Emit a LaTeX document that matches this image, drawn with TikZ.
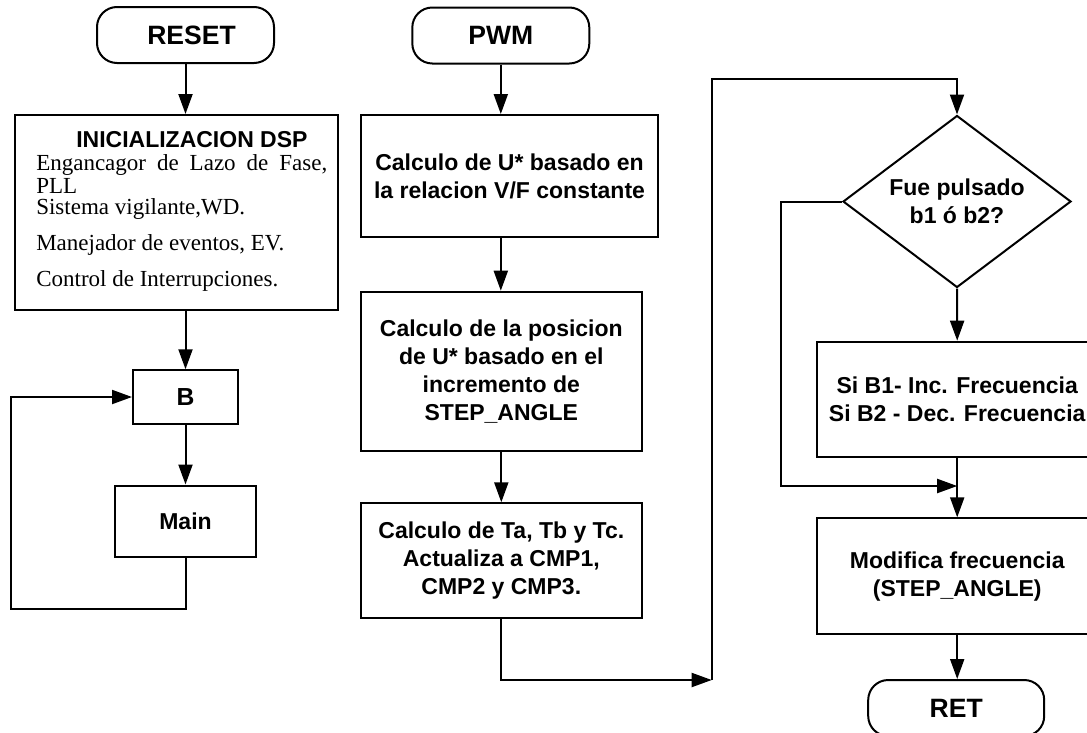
\documentclass[tikz,border=0pt]{standalone}
\usepackage{fontspec}
\setmainfont{Liberation Sans}
\newfontfamily\serifrm{Liberation Serif}
\usetikzlibrary{shapes.geometric,arrows.meta,calc}
\newcommand\bodyfont{\fontsize{17.25}{21}\selectfont\bfseries}
\newcommand\termfont{\fontsize{19.9}{24}\selectfont\bfseries}
\newcommand\serfont{\serifrm\fontsize{17.25}{21}\selectfont}
\begin{document}
\begin{tikzpicture}[x=0.75pt,y=-0.75pt,
 lw/.style={line width=1.5pt},
 box/.style={draw,lw,rectangle,inner sep=0pt,align=center,font=\bodyfont},
 term/.style={draw,lw,rounded corners=15pt,inner sep=0pt,font=\termfont,minimum height=56*0.75pt},
 arr/.style={lw,-{Triangle[length=15pt,width=10.5pt]}},
 conn/.style={lw},
 txt/.style={inner sep=0pt,anchor=base west}]
\useasboundingbox (0,0) rectangle (1087,732);
\clip (0,0) rectangle (1087,732);

% left column
\node[term,minimum width=177*0.75pt] (reset) at (185.5,35) {\hspace*{9pt}RESET};
\node[box,minimum width=323*0.75pt,minimum height=195*0.75pt] (init) at (176.5,212.5) {};
\node[txt,font=\bodyfont] (t0) at (76,147) {INICIALIZACION DSP};
\node[txt,font=\serfont] (t1) at (36,170) {\makebox[218.25pt][s]{Engancagor de Lazo de Fase,}};
\node[txt,font=\serfont] (t2) at (36,193) {PLL};
\node[txt,font=\serfont] (t3) at (36,214) {Sistema vigilante,WD.};
\node[txt,font=\serfont] (t4) at (36,250) {Manejador de eventos, EV.};
\node[txt,font=\serfont] (t5) at (36,286) {Control de Interrupciones.};
\node[box,minimum width=105*0.75pt,minimum height=53.5*0.75pt,font=\fontsize{18.5}{21}\selectfont\bfseries] (b) at (185.5,397) {B};
\node[box,minimum width=141*0.75pt,minimum height=71*0.75pt] (main) at (185.5,521) {Main};
\coordinate (lbl) at (10.7,609.3);

\draw[arr] (reset.south) -- (reset.south |- init.north);
\draw[arr] (b.north |- init.south) -- (b.north);
\draw[arr] (b.south) -- (main.north);
\draw[arr] (main.south) |- (lbl) |- (b.west);

% middle column
\node[term,minimum width=177*0.75pt] (pwm) at (500.8,35.5) {PWM};
\node[box,minimum width=297*0.75pt,minimum height=122*0.75pt] (c1) at (509.5,176) {Calculo de U* basado en\\la relacion V/F constante};
\node[box,minimum width=280.7*0.75pt,minimum height=159*0.75pt] (c2) at (501.3,371.2) {Calculo de la posicion\\de U* basado en el\\incremento de\\STEP\_ANGLE};
\node[box,minimum width=280.7*0.75pt,minimum height=115*0.75pt] (c3) at (501.3,560.8) {Calculo de Ta, Tb y Tc.\\Actualiza a CMP1,\\CMP2 y CMP3.};
\coordinate (j1) at (711.7,680);
\coordinate (j2) at (711.7,79.3);

\draw[arr] (pwm.south) -- (pwm.south |- c1.north);
\draw[arr] (pwm.south |- c1.south) -- (pwm.south |- c2.north);
\draw[arr] (c2.south) -- (c3.north);
\draw[arr] (c3.south) |- (j1);

% right column
\node[diamond,draw,lw,inner sep=0pt,aspect=1.33,minimum width=228*0.75pt,minimum height=172*0.75pt,align=center,font=\bodyfont] (dia) at (957,201.5) {Fue pulsado\\b1 ó b2?};
\node[box,minimum width=281*0.75pt,minimum height=115.6*0.75pt] (si) at (957.2,399.5) {Si B1- Inc. Frecuencia\\Si B2 - Dec. Frecuencia};
\node[box,minimum width=281*0.75pt,minimum height=115.7*0.75pt] (mod) at (957.2,576.2) {Modifica frecuencia\\(STEP\_ANGLE)};
\node[term,minimum width=176*0.75pt] (ret) at (956.2,708) {RET};
\coordinate (lb) at (781,486);
\coordinate (m1) at (957.2,486);

\draw[arr] (j1) -- (j2) -| (dia.north);
\draw[arr] (dia.south) -- (si.north);
\draw[arr] (si.south) -- (mod.north);
\draw[arr] (dia.west) -| (lb) -- (m1);
\draw[arr] (mod.south) -- (mod.south |- ret.north);
\end{tikzpicture}
\end{document}
